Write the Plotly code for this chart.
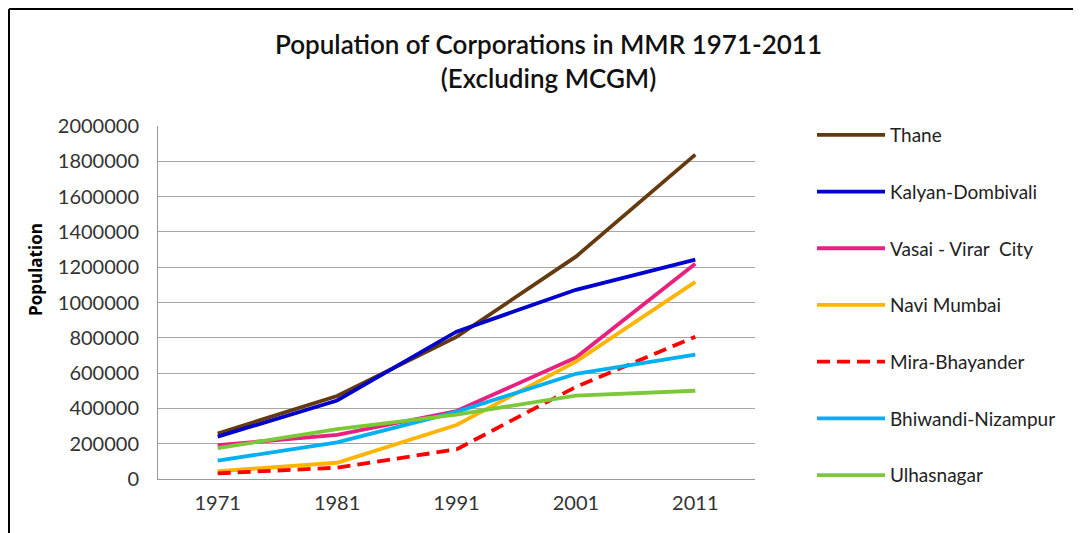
import plotly.graph_objects as go

# census years on the x axis
years = ["1971", "1981", "1991", "2001", "2011"]

# population per corporation
thane = [258000, 470000, 805000, 1260000, 1838000]
kalyan_dombivali = [240000, 445000, 835000, 1072000, 1243000]
vasai_virar = [192000, 250000, 385000, 688000, 1220000]
navi_mumbai = [44000, 92000, 306000, 665000, 1117000]
mira_bhayander = [32000, 64000, 168000, 522000, 806000]
bhiwandi_nizampur = [104000, 208000, 380000, 596000, 704000]
ulhasnagar = [175000, 282000, 365000, 473000, 500000]

series = [
    ("Thane", thane, "#643A0E", "solid"),
    ("Kalyan-Dombivali", kalyan_dombivali, "#0000CC", "solid"),
    ("Vasai - Virar  City", vasai_virar, "#E8207F", "solid"),
    ("Navi Mumbai", navi_mumbai, "#FFB400", "solid"),
    ("Mira-Bhayander", mira_bhayander, "#FF0000", "13px,7px"),
    ("Bhiwandi-Nizampur", bhiwandi_nizampur, "#00B0F0", "solid"),
    ("Ulhasnagar", ulhasnagar, "#7CC839", "solid"),
]

fig = go.Figure()
for i, (name, vals, color, dash) in enumerate(series):
    fig.add_trace(go.Scatter(x=years, y=vals, name=name, mode="lines",
                             legendgroup="g%d" % i,
                             line=dict(color=color, width=3.8, dash=dash)))

# page pixels of the plot area (the page body adds an 8px offset)
OFF = 8
W, H = 1081, 533
L, R, T, B = 158, 755, 126, 479
pw, ph = R - L, B - T
def px(x):
    return (x - L) / pw
def py(y):
    return (B - y) / ph

fig.update_layout(
    width=W, height=H,
    margin=dict(l=L - OFF, r=W - R + OFF, t=T - OFF, b=H - B + OFF, pad=0),
    paper_bgcolor="white", plot_bgcolor="white",
    font=dict(family="Lato, Open Sans, sans-serif", color="#222"),
    title=dict(text="Population of Corporations in MMR 1971-2011<br>(Excluding MCGM)",
               x=0.5, xanchor="center", y=1 - 46 / H, yanchor="top",
               font=dict(size=26, color="#111", family="Lato, sans-serif",
                         weight=600)),
    legend=dict(x=px(812), xanchor="left", y=py(116), yanchor="top",
                tracegroupgap=29, font=dict(size=19, color="#222"),
                bgcolor="rgba(0,0,0,0)", itemwidth=68, maxheight=460),
    annotations=[
        dict(text="<b>Population</b>", xref="paper", yref="paper",
             x=px(35), y=py(270), textangle=-90, showarrow=False,
             xanchor="center", yanchor="middle",
             font=dict(size=17, color="#000", family="Open Sans, sans-serif")),
    ],
    shapes=[
        dict(type="line", xref="paper", yref="paper", x0=px(OFF + 1), x1=px(W + 20),
             y0=py(OFF + 1), y1=py(OFF + 1), line=dict(color="black", width=2)),
        dict(type="line", xref="paper", yref="paper", x0=px(OFF + 1), x1=px(OFF + 1),
             y0=py(OFF + 1), y1=py(H + 20), line=dict(color="black", width=2)),
    ],
)

fig.update_xaxes(type="category", range=[-0.5, 4.5], showgrid=False,
                 showline=True, linecolor="#999", linewidth=1, ticks="",
                 tickfont=dict(size=20, color="#333"), ticklabelstandoff=6)
fig.update_yaxes(range=[0, 2000000], dtick=200000, tickformat="d",
                 showgrid=True, gridcolor="#A6A6A6", gridwidth=1,
                 showline=True, linecolor="#999", linewidth=1, zeroline=False,
                 ticks="", tickfont=dict(size=20, color="#333"),
                 ticklabelstandoff=14)

fig.write_html("out.html")
